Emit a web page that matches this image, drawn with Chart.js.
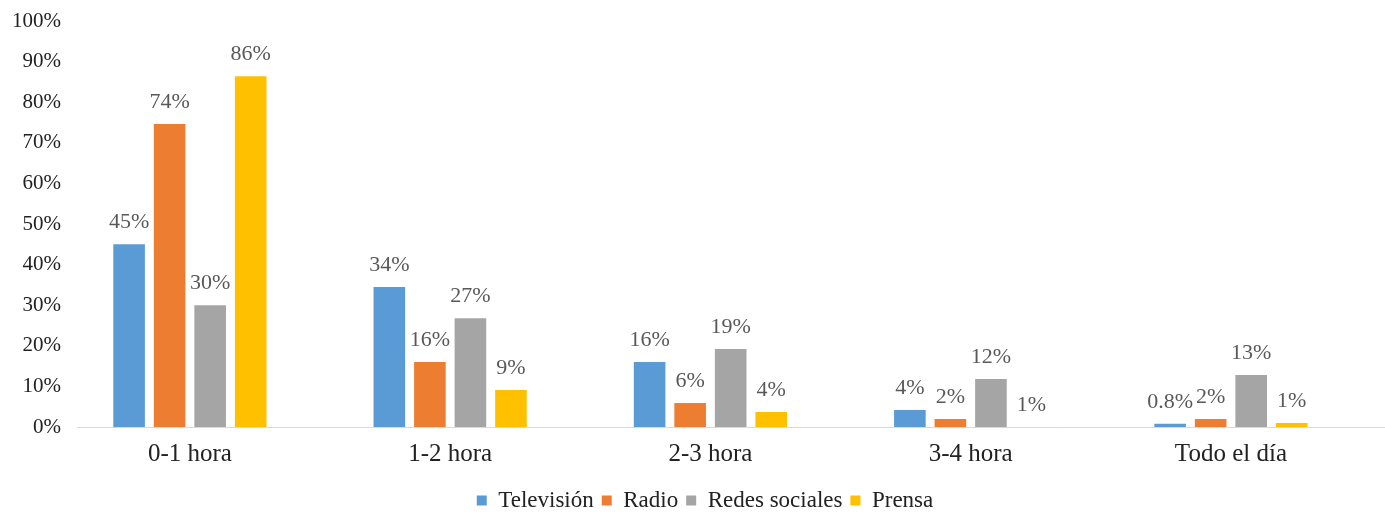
<!DOCTYPE html>
<html lang="es">
<head>
<meta charset="UTF-8">
<title>Horas de consumo por medio</title>
<style>
  body { margin: 0; padding: 0; background: #fff; }
  .wrap { width: 1385px; height: 512px; position: relative; }
</style>
</head>
<body>
<div class="wrap"><canvas id="chart"></canvas></div>
<script src="https://cdn.jsdelivr.net/npm/chart.js@4/dist/chart.umd.min.js"></script>
<script>
// categories and series
const categories = ['0-1 hora', '1-2 hora', '2-3 hora', '3-4 hora', 'Todo el día'];
const seriesNames = ['Televisión', 'Radio', 'Redes sociales', 'Prensa'];
const television = [45, 34.5, 16, 4.2, 0.8];
const radio = [74.6, 16, 5.9, 2, 2];
const redes = [30, 26.8, 19.2, 11.8, 12.8];
const prensa = [86.4, 9.1, 3.7, 0, 1];
// data labels as printed in the picture
const televisionLabels = ['45%', '34%', '16%', '4%', '0.8%'];
const radioLabels = ['74%', '16%', '6%', '2%', '2%'];
const redesLabels = ['30%', '27%', '19%', '12%', '13%'];
const prensaLabels = ['86%', '9%', '4%', '1%', '1%'];
const yTicks = [0, 10, 20, 30, 40, 50, 60, 70, 80, 90, 100];

const colors = ['#5B9BD5', '#ED7D31', '#A5A5A5', '#FFC000'];
const values = [television, radio, redes, prensa];
const labels = [televisionLabels, radioLabels, redesLabels, prensaLabels];
const serif = '"Liberation Serif", "Times New Roman", serif';

// draws the value text above each bar
const barLabels = {
  id: 'barLabels',
  afterDatasetsDraw(chart) {
    const ctx = chart.ctx;
    ctx.save();
    ctx.font = '22px ' + serif;
    ctx.fillStyle = '#595959';
    ctx.textAlign = 'center';
    ctx.textBaseline = 'alphabetic';
    chart.data.datasets.forEach((ds, i) => {
      const meta = chart.getDatasetMeta(i);
      meta.data.forEach((bar, j) => {
        ctx.fillText(labels[i][j], bar.x, bar.y - 16);
      });
    });
    ctx.restore();
  }
};

new Chart(document.getElementById('chart'), {
  type: 'bar',
  data: {
    datasets: seriesNames.map((name, i) => ({
      label: name,
      data: values[i].map((v, j) => ({ x: j, y: v })),
      backgroundColor: colors[i],
      categoryPercentage: 0.623,
      barPercentage: 0.78
    }))
  },
  options: {
    responsive: true,
    maintainAspectRatio: false,
    animation: false,
    layout: { padding: { left: -5, right: -30, top: 21, bottom: -10 } },
    plugins: {
      tooltip: { enabled: false },
      legend: {
        position: 'bottom',
        labels: {
          boxWidth: 10,
          boxHeight: 10,
          padding: 8,
          color: '#222',
          font: { family: serif, size: 23 }
        }
      }
    },
    scales: {
      x: {
        type: 'linear',
        offset: false,
        min: -0.43,
        max: 4.592,
        afterBuildTicks(axis) { axis.ticks = categories.map((c, i) => ({ value: i })); },
        grid: { display: false, drawTicks: false, offset: false },
        border: { color: '#D9D9D9', width: 1 },
        ticks: {
          color: '#222',
          padding: 12,
          autoSkip: false,
          maxRotation: 0,
          callback: v => categories[v],
          font: { family: serif, size: 25 }
        }
      },
      y: {
        min: 0,
        max: 100,
        afterBuildTicks(axis) { axis.ticks = yTicks.map(v => ({ value: v })); },
        // let the layout padding alone decide where 100% sits
        afterFit(axis) { axis.paddingTop = 0; axis.paddingBottom = 0; },
        grid: { display: false, drawTicks: false },
        border: { display: false },
        ticks: {
          color: '#222',
          padding: 17,
          callback: v => v + '%',
          font: { family: serif, size: 21, lineHeight: 1 }
        }
      }
    }
  },
  plugins: [barLabels]
});
</script>
</body>
</html>
